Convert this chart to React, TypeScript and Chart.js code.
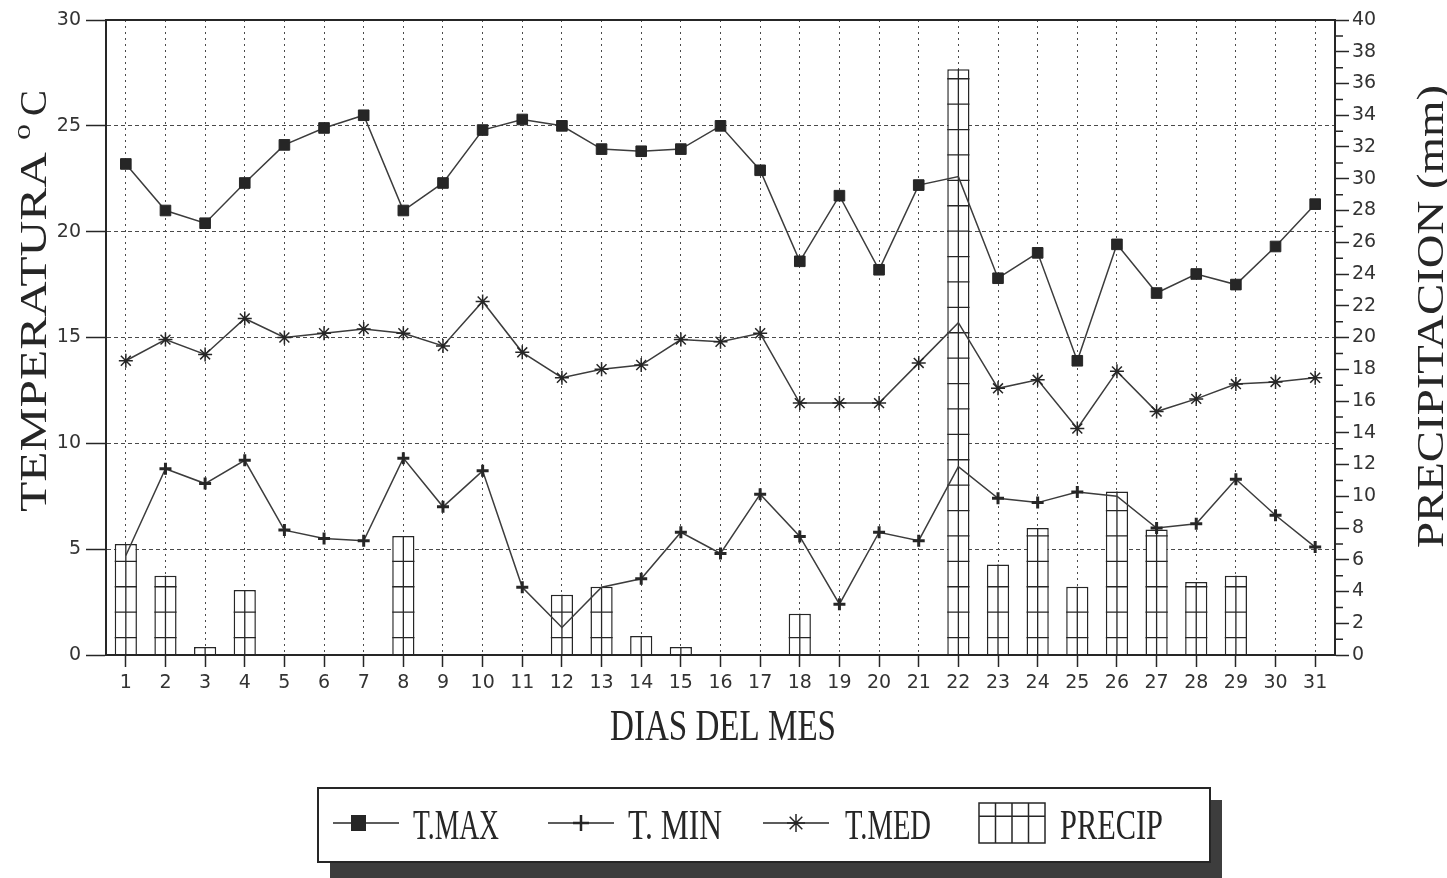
import React, { useEffect, useRef } from "react";
import { Chart, registerables } from "chart.js";

Chart.register(...registerables);

// ---------------- data ----------------
const dayLabels = [
  "1", "2", "3", "4", "5", "6", "7", "8", "9", "10", "11", "12", "13", "14", "15", "16",
  "17", "18", "19", "20", "21", "22", "23", "24", "25", "26", "27", "28", "29", "30", "31",
];
const tempMaxC = [
  23.2, 21.0, 20.4, 22.3, 24.1, 24.9, 25.5, 21.0, 22.3, 24.8, 25.3, 25.0, 23.9, 23.8, 23.9, 25.0,
  22.9, 18.6, 21.7, 18.2, 22.2, 22.6, 17.8, 19.0, 13.9, 19.4, 17.1, 18.0, 17.5, 19.3, 21.3,
];
const tempMinC = [
  4.7, 8.8, 8.1, 9.2, 5.9, 5.5, 5.4, 9.3, 7.0, 8.7, 3.2, 1.3, 3.2, 3.6, 5.8, 4.8,
  7.6, 5.6, 2.4, 5.8, 5.4, 8.9, 7.4, 7.2, 7.7, 7.5, 6.0, 6.2, 8.3, 6.6, 5.1,
];
const tempMedC = [
  13.9, 14.9, 14.2, 15.9, 15.0, 15.2, 15.4, 15.2, 14.6, 16.7, 14.3, 13.1, 13.5, 13.7, 14.9, 14.8,
  15.2, 11.9, 11.9, 11.9, 13.8, 15.7, 12.6, 13.0, 10.7, 13.4, 11.5, 12.1, 12.8, 12.9, 13.1,
];
const precipMm = [
  7.0, 5.0, 0.5, 4.1, null, null, null, 7.5, null, null, null, 3.8, 4.3, 1.2, 0.5, null,
  null, 2.6, null, null, null, 36.9, 5.7, 8.0, 4.3, 10.3, 7.9, 4.6, 5.0, null, null,
];
const tempAxis = { min: 0, max: 30, step: 5 };
const precipAxis = { min: 0, max: 40, step: 2 };
const legendLabels = ["T.MAX", "T. MIN", "T.MED", "PRECIP"];
const xTitle = "DIAS DEL MES";
const yTitle = "TEMPERATURA";
const y1Title = "PRECIPITACION (mm)";

// ---------------- styling ----------------
const W = 1447;
const H = 878;
const INK = "#262626";
const LINE = "#3c3c3c";
const GRID = "#4a4a4a";
const SERIF = '"Liberation Serif", "DejaVu Serif", serif';
const SANS = '"DejaVu Sans", sans-serif';

function fitText(ctx: CanvasRenderingContext2D, text: string, x: number, y: number, targetW: number, font: string) {
  ctx.font = font;
  const w = ctx.measureText(text).width || 1;
  ctx.save();
  ctx.translate(x, y);
  ctx.scale(targetW / w, 1);
  ctx.textAlign = "left";
  ctx.textBaseline = "alphabetic";
  ctx.fillText(text, 0, 0);
  ctx.restore();
}

// hide a marker when it sits inside a precipitation bar (as in the original plot)
function insideBar(c: any, values: number[]) {
  const i = c.dataIndex;
  const p = precipMm[i];
  if (p == null) return false;
  return values[i] / tempAxis.max < (p as number) / precipAxis.max;
}

const decorPlugin = {
  id: "decor",
  afterDatasetDraw(chart: any, args: any) {
    if (args.meta.type !== "bar") return;
    const ctx: CanvasRenderingContext2D = chart.ctx;
    const y1 = chart.scales.y1;
    ctx.save();
    ctx.strokeStyle = INK;
    ctx.lineWidth = 1.3;
    ctx.setLineDash([]);
    args.meta.data.forEach((bar: any, i: number) => {
      if (precipMm[i] == null) return;
      const { x, y, base, width } = bar.getProps(["x", "y", "base", "width"], true);
      const left = x - width / 2;
      const right = x + width / 2;
      ctx.beginPath();
      ctx.moveTo(x, y);
      ctx.lineTo(x, base);
      for (let v = 1.1; v < precipAxis.max; v += 1.6) {
        const py = y1.getPixelForValue(v);
        if (py <= y + 2) break;
        ctx.moveTo(left, py);
        ctx.lineTo(right, py);
      }
      ctx.stroke();
    });
    ctx.restore();
  },
  afterDraw(chart: any) {
    const ctx: CanvasRenderingContext2D = chart.ctx;
    const a = chart.chartArea;
    const y1 = chart.scales.y1;
    ctx.save();
    ctx.setLineDash([]);
    // frame
    ctx.strokeStyle = INK;
    ctx.lineWidth = 2;
    ctx.strokeRect(a.left, a.top, a.right - a.left, a.bottom - a.top);
    // minor ticks on the precipitation axis
    ctx.lineWidth = 1.5;
    ctx.beginPath();
    for (let v = precipAxis.min + 1; v < precipAxis.max; v += 2) {
      const py = y1.getPixelForValue(v);
      ctx.moveTo(a.right, py);
      ctx.lineTo(a.right + 8, py);
    }
    ctx.stroke();

    ctx.fillStyle = INK;
    // x title
    fitText(ctx, xTitle, 610, 740, 226, `44px ${SERIF}`);
    // left title (rotated)
    ctx.save();
    ctx.translate(46, 512);
    ctx.rotate(-Math.PI / 2);
    fitText(ctx, yTitle, 0, 0, 360, `37px ${SERIF}`);
    fitText(ctx, "o", 372, -16, 16, `26px ${SERIF}`);
    fitText(ctx, "C", 396, 0, 26, `37px ${SERIF}`);
    ctx.restore();
    // right title (rotated)
    ctx.save();
    ctx.translate(1443, 548);
    ctx.rotate(-Math.PI / 2);
    fitText(ctx, y1Title, 0, 0, 463, `37px ${SERIF}`);
    ctx.restore();

    // legend box with shadow
    const bx = 318, by = 788, bw = 892, bh = 74;
    ctx.fillStyle = "#3d3d3d";
    ctx.fillRect(bx + 12, by + 12, bw, bh + 6);
    ctx.fillStyle = "#ffffff";
    ctx.fillRect(bx, by, bw, bh);
    ctx.strokeStyle = INK;
    ctx.lineWidth = 2;
    ctx.strokeRect(bx, by, bw, bh);

    const cy = 823;
    const symX = [333, 548, 763];
    ctx.lineWidth = 1.5;
    symX.forEach((sx) => {
      ctx.beginPath();
      ctx.moveTo(sx, cy);
      ctx.lineTo(sx + 66, cy);
      ctx.stroke();
    });
    // T.MAX square
    ctx.fillStyle = INK;
    ctx.fillRect(351, cy - 8, 15, 16);
    // T.MIN plus
    ctx.lineWidth = 2.5;
    ctx.beginPath();
    ctx.moveTo(581, cy - 8);
    ctx.lineTo(581, cy + 8);
    ctx.moveTo(573, cy);
    ctx.lineTo(589, cy);
    ctx.stroke();
    // T.MED asterisk
    ctx.lineWidth = 1.5;
    ctx.beginPath();
    const ax = 796, r = 9;
    ctx.moveTo(ax, cy - r); ctx.lineTo(ax, cy + r);
    ctx.moveTo(ax - r, cy); ctx.lineTo(ax + r, cy);
    ctx.moveTo(ax - r * 0.7, cy - r * 0.7); ctx.lineTo(ax + r * 0.7, cy + r * 0.7);
    ctx.moveTo(ax - r * 0.7, cy + r * 0.7); ctx.lineTo(ax + r * 0.7, cy - r * 0.7);
    ctx.stroke();
    // PRECIP box
    const px0 = 979, py0 = 803, pw = 66, ph = 40;
    ctx.lineWidth = 1.5;
    ctx.strokeRect(px0, py0, pw, ph);
    ctx.beginPath();
    for (let k = 1; k < 4; k++) {
      ctx.moveTo(px0 + (pw * k) / 4, py0);
      ctx.lineTo(px0 + (pw * k) / 4, py0 + ph);
    }
    ctx.moveTo(px0, py0 + ph / 3);
    ctx.lineTo(px0 + pw, py0 + ph / 3);
    ctx.stroke();

    ctx.fillStyle = INK;
    const textX = [413, 628, 845, 1060];
    const textW = [86, 94, 86, 103];
    legendLabels.forEach((t, k) => fitText(ctx, t, textX[k], 839, textW[k], `42px ${SERIF}`));
    ctx.restore();
  },
};

export default function App() {
  const ref = useRef<HTMLCanvasElement | null>(null);

  useEffect(() => {
    document.body.style.margin = "0";
    document.body.style.background = "#ffffff";
    const canvas = ref.current;
    if (!canvas) return;
    const tickFont = { family: SANS, size: 19 };
    const chart = new Chart(canvas, {
      type: "bar",
      data: {
        labels: dayLabels,
        datasets: [
          {
            type: "line",
            label: legendLabels[0],
            data: tempMaxC,
            yAxisID: "y",
            borderColor: LINE,
            borderWidth: 1.5,
            tension: 0,
            pointStyle: "rect",
            pointRadius: (c: any) => (insideBar(c, tempMaxC) ? 0 : 7.5),
            pointBackgroundColor: INK,
            pointBorderColor: INK,
            pointBorderWidth: 1,
            order: 0,
          } as any,
          {
            type: "line",
            label: legendLabels[1],
            data: tempMinC,
            yAxisID: "y",
            borderColor: LINE,
            borderWidth: 1.5,
            tension: 0,
            pointStyle: "cross",
            pointRadius: (c: any) => (insideBar(c, tempMinC) ? 0 : 6),
            pointBorderColor: INK,
            pointBorderWidth: 3,
            order: 0,
          } as any,
          {
            type: "line",
            label: legendLabels[2],
            data: tempMedC,
            yAxisID: "y",
            borderColor: LINE,
            borderWidth: 1.5,
            tension: 0,
            pointStyle: "star",
            pointRadius: (c: any) => (insideBar(c, tempMedC) ? 0 : 7),
            pointBorderColor: INK,
            pointBorderWidth: 1.5,
            order: 0,
          } as any,
          {
            type: "bar",
            label: legendLabels[3],
            data: precipMm,
            yAxisID: "y1",
            backgroundColor: "#ffffff",
            borderColor: INK,
            borderWidth: 1.5,
            barPercentage: 0.56,
            categoryPercentage: 1,
            order: 1,
          } as any,
        ],
      },
      options: {
        responsive: false,
        animation: false,
        devicePixelRatio: 1,
        layout: { padding: { top: 20, left: 0, right: 0, bottom: 0 } },
        plugins: { legend: { display: false }, tooltip: { enabled: false }, title: { display: false } },
        scales: {
          x: {
            type: "category",
            offset: true,
            grid: {
              offset: false,
              color: GRID,
              lineWidth: 1,
              drawTicks: true,
              tickLength: 12,
              tickColor: INK,
              tickWidth: 1.5,
              tickBorderDash: [],
            },
            border: { display: true, color: INK, width: 2, dash: [2, 4] },
            ticks: { color: "#333", font: tickFont, padding: 5, autoSkip: false, maxRotation: 0 },
            afterFit: (s: any) => {
              s.height = H - 655;
            },
          },
          y: {
            position: "left",
            min: tempAxis.min,
            max: tempAxis.max,
            grid: {
              color: GRID,
              lineWidth: 1,
              tickLength: 20,
              tickColor: INK,
              tickWidth: 1.5,
              tickBorderDash: [],
            },
            border: { display: true, color: INK, width: 2, dash: [4, 3] },
            ticks: { stepSize: tempAxis.step, color: "#333", font: tickFont, padding: 5 },
            afterFit: (s: any) => {
              s.width = 106;
            },
          },
          y1: {
            position: "right",
            min: precipAxis.min,
            max: precipAxis.max,
            grid: {
              drawOnChartArea: false,
              tickLength: 14,
              tickColor: INK,
              tickWidth: 1.5,
              tickBorderDash: [],
            },
            border: { display: true, color: INK, width: 2 },
            ticks: { stepSize: precipAxis.step, color: "#333", font: tickFont, padding: 3 },
            afterFit: (s: any) => {
              s.width = W - 1335;
            },
          },
        },
      } as any,
      plugins: [decorPlugin],
    });
    return () => chart.destroy();
  }, []);

  return (
    <div style={{ width: W, height: H, overflow: "hidden", background: "#fff" }}>
      <canvas ref={ref} width={W} height={H} style={{ display: "block" }} />
    </div>
  );
}
